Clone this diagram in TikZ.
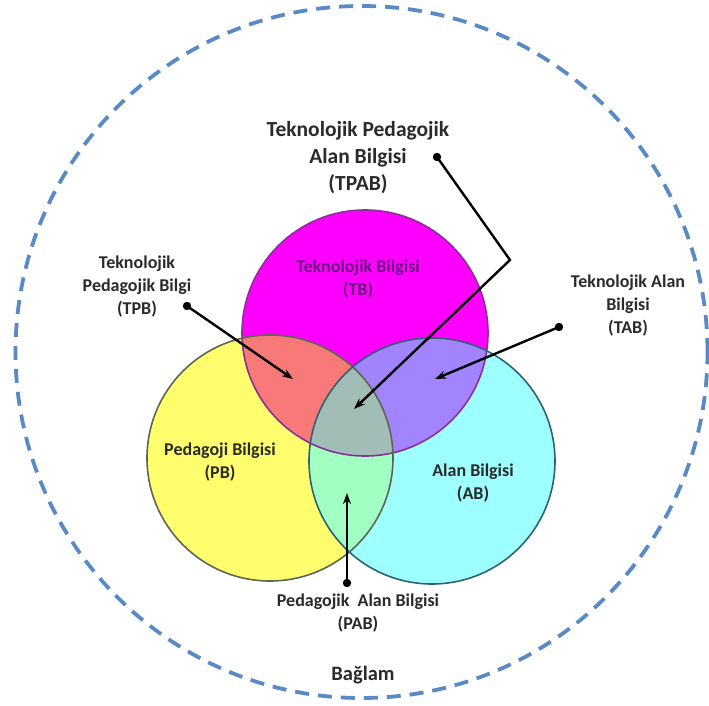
\documentclass[tikz,border=0pt]{standalone}
\usepackage{fontspec}
\setmainfont{Carlito}
\usetikzlibrary{arrows.meta}
\definecolor{cTB}{HTML}{FF00FF}
\definecolor{cPB}{HTML}{FFFF6E}
\definecolor{cAB}{HTML}{9EFFFF}
\definecolor{cTP}{HTML}{F87A78}
\definecolor{cTA}{HTML}{A384FF}
\definecolor{cPA}{HTML}{A2FFC4}
\definecolor{cALL}{HTML}{A2BCB6}
\definecolor{lTB}{HTML}{8A2E9A}
\definecolor{lPB}{HTML}{5C6650}
\definecolor{lAB}{HTML}{2F6272}
\definecolor{dashc}{HTML}{5A8AC6}
\definecolor{txt}{HTML}{2A2A2A}
\definecolor{tbtxt}{HTML}{6A1480}
\begin{document}
\begin{tikzpicture}[x=1pt,y=-1pt,
  lab/.style={font=\fontsize{18}{23}\selectfont\bfseries, text=txt, align=center, inner sep=0pt},
  biglab/.style={font=\fontsize{21.5}{27}\selectfont\bfseries, text=txt, align=center, inner sep=0pt},
  ptr/.style={line width=2.4pt, black, -{Stealth[length=11pt,width=8pt]}}]
\useasboundingbox (0,0) rectangle (709,706);
\fill[white] (0,0) rectangle (709,706);
\coordinate (TB) at (365,333);
\coordinate (PB) at (270,458);
\coordinate (AB) at (432,461);
\def\R{123pt}
% outer context
\draw[dashc, line width=3.8pt, dash pattern=on 14pt off 9pt] (361.5,352) circle[radius=346pt];
% base fills
\fill[cPB] (PB) circle[radius=\R];
\fill[cAB] (AB) circle[radius=\R];
\fill[cTB] (TB) circle[radius=\R];
% pairwise overlaps
\begin{scope}
  \clip (TB) circle[radius=\R];
  \fill[cTP] (PB) circle[radius=\R];
  \fill[cTA] (AB) circle[radius=\R];
\end{scope}
\begin{scope}
  \clip (PB) circle[radius=\R];
  \fill[cPA] (AB) circle[radius=\R];
  \clip (AB) circle[radius=\R];
  \fill[cALL] (TB) circle[radius=\R];
\end{scope}
% outlines
\draw[lTB, line width=1.6pt] (TB) circle[radius=\R];
\draw[lPB, line width=1.6pt] (PB) circle[radius=\R];
\draw[lAB, line width=1.6pt] (AB) circle[radius=\R];
% circle labels
\node[lab, text=tbtxt] (tbl) at (358,279) {Teknolojik Bilgisi\\(TB)};
\node[lab] (pbl) at (220,462) {Pedagoji Bilgisi\\(PB)};
\node[lab] (abl) at (473,483) {Alan Bilgisi\\(AB)};
% outer labels
\node[biglab] (tpab) at (358,158) {Teknolojik Pedagojik\\Alan Bilgisi\\(TPAB)};
\node[lab] (tpb) at (137,287) {Teknolojik\\Pedagojik Bilgi\\(TPB)};
\node[lab] (tab) at (628,306) {Teknolojik Alan\\Bilgisi\\(TAB)};
\node[lab] (pab) at (358,613) {Pedagojik\ \ Alan Bilgisi\\(PAB)};
\node[biglab, font=\fontsize{20.5}{25}\selectfont\bfseries] (bag) at (363,675) {Bağlam};
% pointer ends
\coordinate (dTPAB) at (437,157);
\coordinate (kTPAB) at (510,260);
\coordinate (tTPAB) at (354,409);
\coordinate (dTPB) at (187,306);
\coordinate (tTPB) at (293,379);
\coordinate (dTAB) at (559,327);
\coordinate (tTAB) at (435,379);
\coordinate (dPAB) at (347,583);
\coordinate (tPAB) at (347,493);
% pointers
\draw[ptr] (dTPAB) -- (kTPAB) -- (tTPAB);
\draw[ptr] (dTPB) -- (tTPB);
\draw[ptr] (dTAB) -- (tTAB);
\draw[ptr] (dPAB) -- (tPAB);
\foreach \p in {dTPAB,dTPB,dTAB,dPAB} \fill[black] (\p) circle[radius=4.2pt];
\end{tikzpicture}
\end{document}
